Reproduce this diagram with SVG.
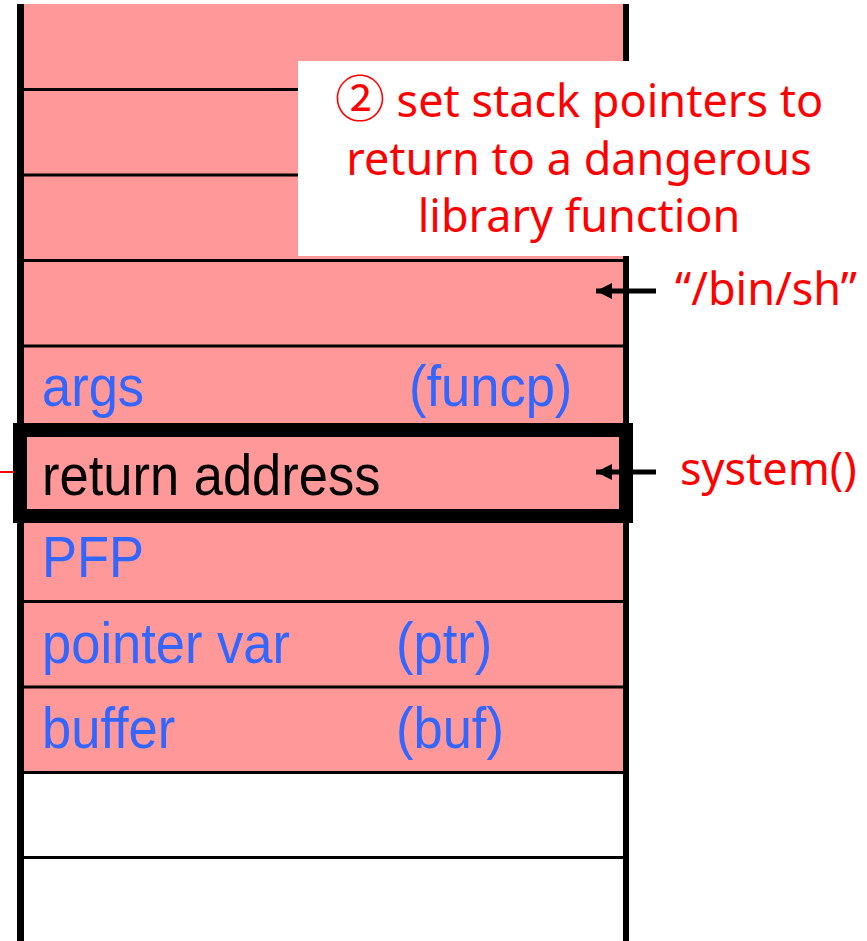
<svg xmlns="http://www.w3.org/2000/svg" width="867" height="941" viewBox="0 0 867 941">
<style>
.cell{fill:#FF9999}
.sep{stroke:#000;stroke-width:3}
.wall{stroke:#000}
.lbl{font-family:"Liberation Sans",Arial,sans-serif;font-size:52.5px;fill:#3366FF}
.blk{font-family:"Liberation Sans",Arial,sans-serif;font-size:52.5px;fill:#000}
.note{font-family:"Noto Sans","Noto Sans CJK JP","DejaVu Sans",sans-serif;font-size:45px;fill:#FF0000}
.circ{font-size:50px}
.arrow{stroke:#000;stroke-width:5;fill:none}
</style>
<defs>
<marker id="ah" markerUnits="userSpaceOnUse" markerWidth="18" markerHeight="16" refX="16" refY="8" orient="auto">
<path d="M0,0 L16,8 L0,16 Z" fill="#000"/>
</marker>
</defs>
<rect width="867" height="941" fill="#fff"/>
<g id="stack">
<rect class="cell" x="24" y="4" width="599" height="768"/>
<g id="row-1"><line class="sep" x1="24" y1="89.5" x2="623" y2="89.5"/></g>
<g id="row-2"><line class="sep" x1="24" y1="175" x2="623" y2="175"/></g>
<g id="row-3"><line class="sep" x1="24" y1="260.5" x2="623" y2="260.5"/></g>
<g id="row-4"><line class="sep" x1="24" y1="346" x2="623" y2="346"/></g>
<g id="row-args"><line class="sep" x1="24" y1="431" x2="623" y2="431"/>
<text class="lbl" transform="translate(42,406) scale(1,1.1)">args</text><text class="lbl" transform="translate(409,406) scale(1,1.1)">(funcp)</text></g>
<g id="row-ret"><line class="sep" x1="24" y1="516" x2="623" y2="516"/>
<text class="blk" transform="translate(42,495) scale(1,1.1)">return address</text></g>
<g id="row-pfp"><line class="sep" x1="24" y1="601.5" x2="623" y2="601.5"/>
<text class="lbl" transform="translate(42,577) scale(1,1.1)">PFP</text></g>
<g id="row-ptr"><line class="sep" x1="24" y1="687" x2="623" y2="687"/>
<text class="lbl" transform="translate(42,663) scale(1,1.1)">pointer var</text><text class="lbl" transform="translate(396,663) scale(1,1.1)">(ptr)</text></g>
<g id="row-buf"><line class="sep" x1="24" y1="772.5" x2="623" y2="772.5"/>
<text class="lbl" transform="translate(42,748) scale(1,1.1)">buffer</text><text class="lbl" transform="translate(396,748) scale(1,1.1)">(buf)</text></g>
<g id="row-empty"><line class="sep" x1="24" y1="857.5" x2="623" y2="857.5"/></g>
<line class="wall" x1="20.5" y1="4" x2="20.5" y2="941" stroke-width="7"/>
<line class="wall" x1="626" y1="4" x2="626" y2="941" stroke-width="6"/>
</g>
<g id="highlight">
<rect x="20" y="430" width="606" height="86" fill="none" stroke="#000" stroke-width="14"/>
</g>
<g id="note">
<rect x="298" y="61" width="560" height="195" fill="#fff"/>
<text class="note" text-anchor="middle"><tspan x="579" y="117"><tspan class="circ">②</tspan> set stack pointers to</tspan><tspan x="579" y="175">return to a dangerous</tspan><tspan x="579" y="232">library function</tspan></text>
</g>
<g id="connectors">
<line class="arrow" x1="656" y1="291" x2="596" y2="291" marker-end="url(#ah)"/>
<line class="arrow" x1="656" y1="472" x2="596" y2="472" marker-end="url(#ah)"/>
<line x1="0" y1="472" x2="14" y2="472" stroke="#FF0000" stroke-width="2"/>
</g>
<g id="labels">
<text class="note" x="675" y="305">“/bin/sh”</text>
<text class="note" x="680" y="485">system()</text>
</g>
</svg>
